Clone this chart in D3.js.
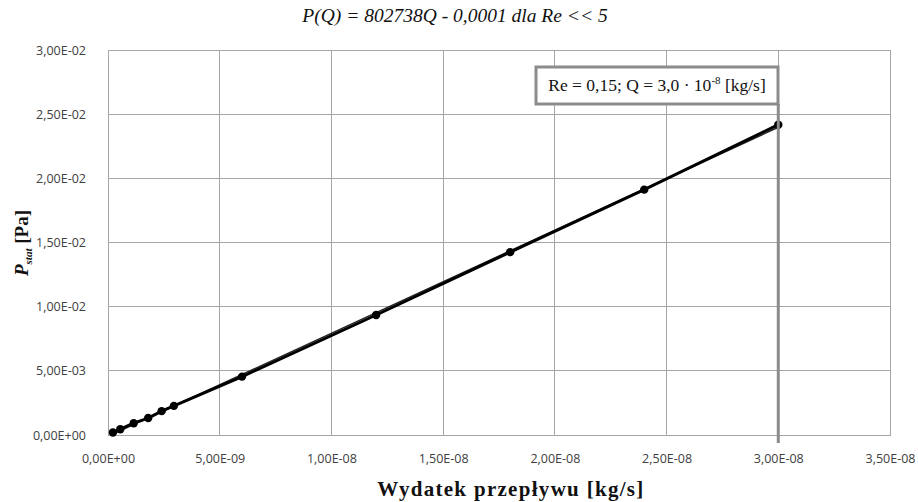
<!DOCTYPE html>
<html><head><meta charset="utf-8">
<script src="https://cdn.jsdelivr.net/npm/d3@7"></script>
<style>body{margin:0;background:#fff}svg{display:block}</style>
</head><body>
<script>
const flowQ = [2.2e-10, 5.5e-10, 1.15e-9, 1.8e-9, 2.4e-9, 2.95e-9, 6.0e-9, 1.2e-8, 1.8e-8, 2.4e-8, 3.0e-8];
const pressureP = [0.00020, 0.00045, 0.00092, 0.00132, 0.00186, 0.00227, 0.00455, 0.00935, 0.01425, 0.01912, 0.02418];
const xTicks = [0, 5e-9, 1e-8, 1.5e-8, 2e-8, 2.5e-8, 3e-8, 3.5e-8];
const xTickLabels = ["0,00E+00","5,00E-09","1,00E-08","1,50E-08","2,00E-08","2,50E-08","3,00E-08","3,50E-08"];
const yTicks = [0, 0.005, 0.01, 0.015, 0.02, 0.025, 0.03];
const yTickLabels = ["0,00E+00","5,00E-03","1,00E-02","1,50E-02","2,00E-02","2,50E-02","3,00E-02"];
const trendSlope = [802738];
const trendIntercept = [-0.0001];
const markerQ = [3.0e-8];

const W = 918, H = 502;
const m = {left:108, right:890, top:50, bottom:435};
const svg = d3.select("body").append("svg").attr("width", W).attr("height", H);
const x = d3.scaleLinear().domain([0, 3.5e-8]).range([m.left, m.right]);
const y = d3.scaleLinear().domain([0, 0.03]).range([m.bottom, m.top]);

// gridlines
svg.append("g").selectAll("line").data(yTicks).join("line")
  .attr("x1", m.left).attr("x2", m.right).attr("y1", d => y(d)).attr("y2", d => y(d))
  .attr("stroke", "#a6a6a6").attr("stroke-width", 1).attr("shape-rendering","crispEdges");
svg.append("g").selectAll("line").data(xTicks).join("line")
  .attr("y1", m.top).attr("y2", m.bottom).attr("x1", d => x(d)).attr("x2", d => x(d))
  .attr("stroke", "#a6a6a6").attr("stroke-width", 1).attr("shape-rendering","crispEdges");

// axes
const xAxis = d3.axisBottom(x).tickValues(xTicks).tickFormat((d,i) => xTickLabels[i]).tickSize(0).tickPadding(19);
const yAxis = d3.axisLeft(y).tickValues(yTicks).tickFormat((d,i) => yTickLabels[i]).tickSize(0).tickPadding(22);
const gx = svg.append("g").attr("transform", `translate(0,${m.bottom})`).call(xAxis);
const gy = svg.append("g").attr("transform", `translate(${m.left},0)`).call(yAxis);
[gx, gy].forEach(g => {
  g.select(".domain").attr("stroke", "#a6a6a6").attr("shape-rendering","crispEdges");
  g.selectAll("text").attr("font-family", "'Open Sans', sans-serif").attr("font-size", 12.5).attr("fill", "#404040");
});

// trend line
const tl = d3.line().x(d => x(d)).y(d => y(trendSlope[0]*d + trendIntercept[0]));
svg.append("path").datum([flowQ[0], flowQ[flowQ.length-1]]).attr("d", tl)
  .attr("fill","none").attr("stroke","#222").attr("stroke-width",1.5);

// data line
const pts = flowQ.map((q,i) => [q, pressureP[i]]);
svg.append("path").datum(pts).attr("d", d3.line().x(d => x(d[0])).y(d => y(d[1])))
  .attr("fill","none").attr("stroke","#000").attr("stroke-width",3);
svg.append("g").selectAll("circle").data(pts).join("circle")
  .attr("cx", d => x(d[0])).attr("cy", d => y(d[1])).attr("r", 4.2).attr("fill","#000");

// marker vertical line & label box
const bx0 = 536, by0 = 67, bx1 = 778, by1 = 104;
svg.append("line").attr("x1", x(markerQ[0])).attr("x2", x(markerQ[0])).attr("y1", by1).attr("y2", 443)
  .attr("stroke","#8c8c8c").attr("stroke-width",3);
svg.append("rect").attr("x", bx0).attr("y", by0).attr("width", bx1-bx0).attr("height", by1-by0)
  .attr("fill","#fff").attr("stroke","#8c8c8c").attr("stroke-width",3);
const lt = svg.append("text").attr("x", (bx0+bx1)/2).attr("y", 91).attr("text-anchor","middle")
  .attr("font-family","'Liberation Serif', serif").attr("font-size",17.5).attr("fill","#111");
lt.append("tspan").text("Re = 0,15; Q =  3,0 · 10");
lt.append("tspan").attr("dy",-7).attr("font-size",11).text("-8");
lt.append("tspan").attr("dy",7).text(" [kg/s]");

// title
svg.append("text").attr("x", 455).attr("y", 22).attr("text-anchor","middle")
  .attr("font-family","'Liberation Serif', serif").attr("font-style","italic").attr("font-size",19.5)
  .attr("fill","#111").text("P(Q) = 802738Q - 0,0001 dla Re << 5");

// x title
svg.append("text").attr("x", 511).attr("y", 496).attr("text-anchor","middle")
  .attr("font-family","'Liberation Serif', serif").attr("font-weight","bold").attr("font-size",21)
  .attr("letter-spacing", 1.3).attr("fill","#111").text("Wydatek przepływu [kg/s]");

// y title
const yt = svg.append("text").attr("transform","translate(28,243) rotate(-90)").attr("text-anchor","middle")
  .attr("font-family","'Liberation Serif', serif").attr("font-weight","bold").attr("font-size",19).attr("fill","#111");
yt.append("tspan").attr("font-style","italic").text("P");
yt.append("tspan").attr("font-style","italic").attr("font-size",11).attr("dy",4).text("stat");
yt.append("tspan").attr("dy",-4).text(" [Pa]");
</script>
</body></html>
